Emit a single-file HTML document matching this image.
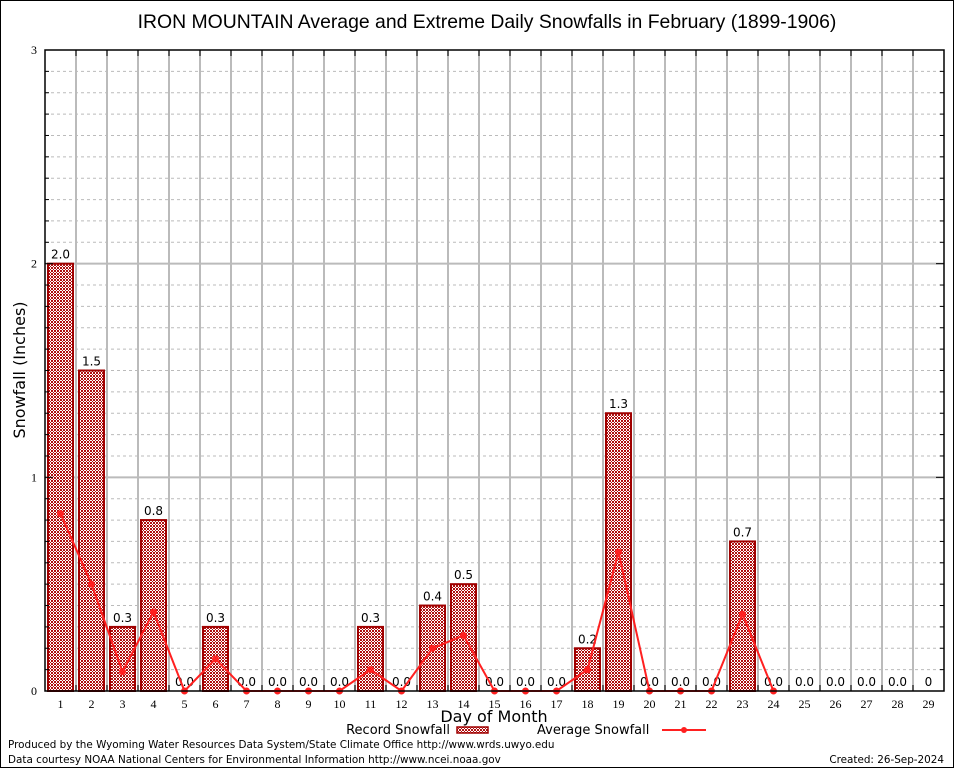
<!DOCTYPE html>
<html><head><meta charset="utf-8"><style>
body{margin:0;background:#fff}
svg{display:block;font-family:"DejaVu Sans","Liberation Sans",sans-serif}
</style></head><body>
<svg id="c" width="954" height="768">
<defs><pattern id="hatch" width="3" height="3" patternUnits="userSpaceOnUse"><rect width="3" height="3" fill="#fff"/><rect width="2" height="2" fill="#b01010"/><rect x="2" y="2" width="1" height="1" fill="#b01010"/></pattern></defs>
<rect x="0.5" y="0.5" width="953" height="767" fill="#fff" stroke="#000"/>
<text x="487" y="28" font-size="19.4" text-anchor="middle" font-family="Liberation Sans, sans-serif">IRON MOUNTAIN Average and Extreme Daily Snowfalls in February (1899-1906)</text>
<g id="grid"></g><g id="bars"></g><g id="line"></g><g id="axes"></g>
<text x="25" y="370" font-size="16" text-anchor="middle" transform="rotate(-90 25 370)">Snowfall (Inches)</text>
<text x="494" y="722" font-size="16" text-anchor="middle">Day of Month</text>
<g>
<text x="450" y="734" font-size="13" text-anchor="end">Record Snowfall</text>
<rect x="457" y="727" width="31" height="6" fill="url(#hatch)" stroke="#a00000" stroke-width="1.5"/>
<text x="537" y="734" font-size="13">Average Snowfall</text>
<line x1="662" y1="730" x2="706" y2="730" stroke="#ff2020" stroke-width="2"/>
<circle cx="684" cy="730" r="3" fill="#ff2020"/>
</g>
<text x="8" y="748" font-size="10.4">Produced by the Wyoming Water Resources Data System/State Climate Office http://www.wrds.uwyo.edu</text>
<text x="8" y="763" font-size="10.4">Data courtesy NOAA National Centers for Environmental Information http://www.ncei.noaa.gov</text>
<text x="944" y="763" font-size="10.4" text-anchor="end">Created: 26-Sep-2024</text>
</svg>
<script>
const days=[1,2,3,4,5,6,7,8,9,10,11,12,13,14,15,16,17,18,19,20,21,22,23,24,25,26,27,28,29];
const recordVals=[2.0,1.5,0.3,0.8,0,0.3,0,0,0,0,0.3,0,0.4,0.5,0,0,0,0.2,1.3,0,0,0,0.7,0,0,0,0,0,0];
const recordLabels=["2.0","1.5","0.3","0.8","0.0","0.3","0.0","0.0","0.0","0.0","0.3","0.0","0.4","0.5","0.0","0.0","0.0","0.2","1.3","0.0","0.0","0.0","0.7","0.0","0.0","0.0","0.0","0.0","0"];
const avgVals=[0.83,0.5,0.09,0.37,0,0.15,0,0,0,0,0.1,0,0.2,0.26,0,0,0,0.1,0.65,0,0,0,0.36,0,null,null,null,null,null];
const yTicks=[0,1,2,3];
const NS="http://www.w3.org/2000/svg";
const L=45,R=944,T=50,B=691,step=(R-L)/days.length;
const xs=d=>L+step*(d-0.5);
const ys=v=>B-(B-T)*v/3;
function mk(p,t,a){const e=document.createElementNS(NS,t);for(const k in a)e.setAttribute(k,a[k]);p.appendChild(e);return e;}
const g=document.getElementById('grid'),ax=document.getElementById('axes'),bg=document.getElementById('bars'),lg=document.getElementById('line');
for(let i=1;i<30;i++){if(i%10===0)continue;const y=ys(i/10);
const gl=mk(g,'line',{x1:L,x2:R,y1:y,y2:y,stroke:'#bbb','stroke-dasharray':'3,3'});

}
yTicks.forEach(t=>{const y=ys(t);
if(t>0&&t<3){const gl=mk(g,'line',{x1:L,x2:R,y1:y,y2:y,stroke:'#bbb','stroke-width':2});

}
const tl=mk(ax,'text',{x:L-8,y:y+4,'font-size':12,'text-anchor':'end','font-family':'Liberation Serif, serif'});tl.textContent=t;

});
days.forEach((d,i)=>{if(i>0){const x=L+step*i;
const vl=mk(g,'line',{x1:x,x2:x,y1:T,y2:B,stroke:'#bbb','stroke-width':2});


mk(ax,'line',{x1:x,x2:x,y1:T,y2:T+6,stroke:'#000'});mk(ax,'line',{x1:x,x2:x,y1:B,y2:B-6,stroke:'#000'});}
const xl=mk(ax,'text',{x:xs(d),y:B+17,'font-size':12,'text-anchor':'middle','font-family':'Liberation Serif, serif'});xl.textContent=d;


const v=recordVals[i];
if(v>0){const r=mk(bg,'rect',{x:xs(d)-12.5,y:ys(v),width:25,height:B-ys(v),fill:'url(#hatch)',stroke:'#a00000','stroke-width':2});

}
const lb=mk(bg,'text',{x:xs(d),y:ys(v)-5,'font-size':12,'text-anchor':'middle'});lb.textContent=recordLabels[i];

});
for(let i=1;i<30;i++){if(i%10===0)continue;const y=ys(i/10);mk(ax,'line',{x1:L,x2:L+4,y1:y,y2:y,stroke:'#000'});mk(ax,'line',{x1:R,x2:R-4,y1:y,y2:y,stroke:'#000'});}
yTicks.forEach(t=>{const y=ys(t);mk(ax,'line',{x1:L,x2:L+8,y1:y,y2:y,stroke:'#000'});mk(ax,'line',{x1:R,x2:R-8,y1:y,y2:y,stroke:'#000'});});
let pts=[];days.forEach((d,i)=>{if(avgVals[i]!==null)pts.push([xs(d),ys(avgVals[i])]);});
const pl=mk(lg,'polyline',{points:pts.map(p=>p.join(',')).join(' '),fill:'none',stroke:'#ff2020','stroke-width':2});


pts.forEach(p=>{const c=mk(lg,'circle',{cx:p[0],cy:p[1],r:3.5,fill:'#ff2020'});

});
const fr=mk(ax,'rect',{x:L,y:T,width:R-L,height:B-T,fill:'none',stroke:'#000','stroke-width':1.5});


</script>
</body></html>
